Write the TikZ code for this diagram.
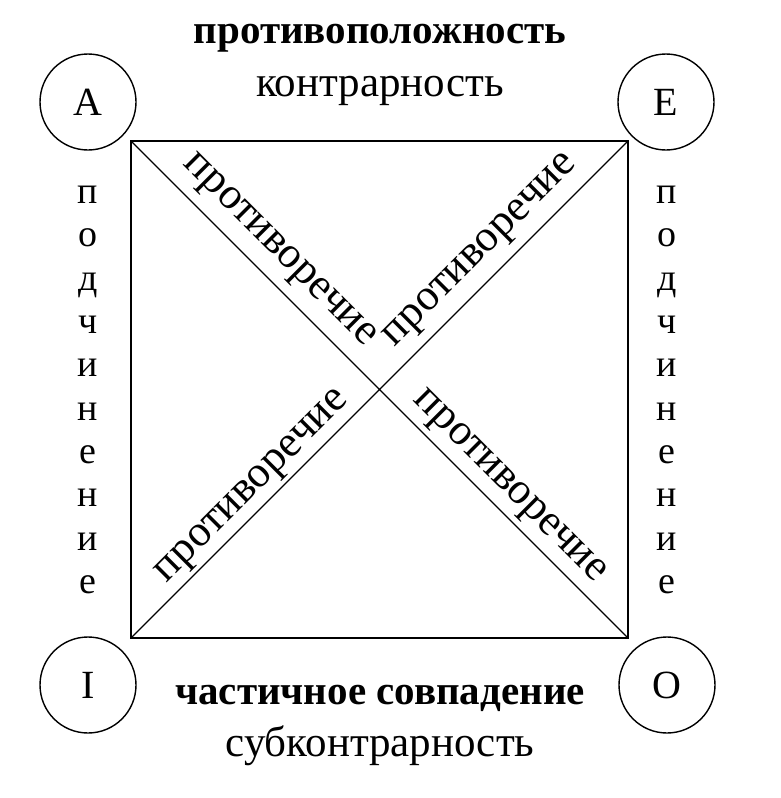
\documentclass[tikz,border=0pt]{standalone}
\usepackage{fontspec}
\setmainfont{Liberation Serif}
\begin{document}
\begin{tikzpicture}[x=1pt,y=-1pt,
  circ/.style={draw,line width=1.4pt,circle,minimum size=96pt,inner sep=0pt,font=\fontsize{40}{42}\selectfont},
  big/.style={font=\fontsize{43}{46}\selectfont},
  bigb/.style={font=\fontsize{41}{46}\selectfont\bfseries},
  diag/.style={font=\fontsize{44}{46}\selectfont,inner sep=0pt},
  vert/.style={font=\fontsize{38}{43.3}\selectfont,align=center,inner sep=0pt}]
\useasboundingbox (0,0) rectangle (780,798);
\node[circ] (A) at (88,102) {A};
\node[circ] (E) at (666,102) {E};
\node[circ] (I) at (88,685) {I};
\node[circ] (O) at (667,685) {O};
\coordinate (a) at (131,141);
\coordinate (e) at (628,141);
\coordinate (i) at (131,638);
\coordinate (o) at (628,638);
\draw[line width=1.3pt] (a) -- (e) -- (o) -- (i) -- cycle;
\draw[line width=1.3pt] (a) -- (o) (e) -- (i);
\node[bigb] (t1) at (380,38) {противоположность};
\node[big] (t2) at (380,91) {контрарность};
\node[bigb] (b1) at (380,698) {частичное совпадение};
\node[big] (b2) at (380,746) {субконтрарность};
\node[diag,rotate=-45] (d1) at (278,252) {противоречие};
\node[diag,rotate=45] (d2) at (482,252) {противоречие};
\node[diag,rotate=45] (d3) at (254,488) {противоречие};
\node[diag,rotate=-45] (d4) at (508,488) {противоречие};
\node[vert] (l) at (88,390) {п\\о\\д\\ч\\и\\н\\е\\н\\и\\е};
\node[vert] (r) at (667,390) {п\\о\\д\\ч\\и\\н\\е\\н\\и\\е};
\end{tikzpicture}
\end{document}
